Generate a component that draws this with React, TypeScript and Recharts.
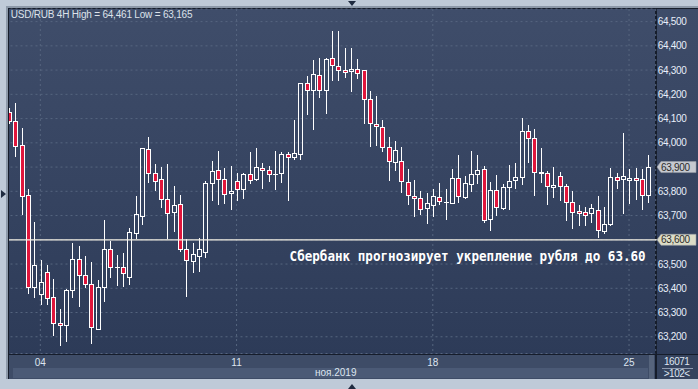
import { ComposedChart, Bar, XAxis, YAxis, CartesianGrid, ReferenceLine } from "recharts";

// USD/RUB 4H candles
const opens = [
  64127, 64090, 63991, 63783, 63406, 63375, 63466, 63363, 63255, 63247,
  63391, 63519, 63453, 63416, 63233, 63406, 63561, 63486, 63486, 63448,
  63629, 63699, 63973, 63874, 63849, 63767, 63713, 63746, 63561, 63511,
  63532, 63551, 63833, 63888, 63849, 63792, 63841, 63808, 63871, 63849,
  63896, 63886, 63870, 63874, 63952, 63943, 63955, 64245, 64219, 64278,
  64219, 64348, 64315, 64299, 64295, 64303, 64299, 64179, 64076, 64064,
  63981, 63919, 63924, 63837, 63779, 63771, 63730, 63742, 63775, 63756,
  63753, 63853, 63778, 63829, 63870, 63891, 63684, 63804, 63732, 63816,
  63845, 63858, 64047, 64018, 63878, 63874, 63816, 63862, 63820, 63754,
  63717, 63713, 63709, 63721, 63635, 63664, 63858, 63849, 63845, 63853,
  63849, 63783,
];
const highs = [
  64143, 64165, 64062, 63809, 63673, 63516, 63496, 63437, 63314, 63395,
  63587, 63574, 63533, 63507, 63433, 63681, 63596, 63537, 63545, 63650,
  63780, 63980, 64025, 63912, 63900, 63912, 63822, 63785, 63603, 63587,
  63606, 63844, 63924, 63965, 63896, 63904, 63875, 63875, 63962, 63978,
  63917, 63904, 63966, 63962, 63961, 64094, 64247, 64275, 64340, 64350,
  64350, 64461, 64461, 64390, 64390, 64344, 64300, 64212, 64192, 64093,
  64023, 64006, 63983, 63891, 63845, 63800, 63792, 63808, 63833, 63808,
  63891, 63948, 63862, 63966, 63948, 63903, 63837, 63866, 63830, 63908,
  63917, 64101, 64072, 64056, 63977, 63882, 63899, 63878, 63830, 63800,
  63742, 63734, 63746, 63779, 63734, 63895, 63874, 64039, 63891, 63895,
  63891, 63948,
];
const lows = [
  64081, 63947, 63706, 63379, 63365, 63336, 63336, 63207, 63165, 63184,
  63365, 63328, 63406, 63173, 63230, 63349, 63448, 63413, 63410, 63419,
  63606, 63665, 63839, 63805, 63736, 63606, 63637, 63555, 63369, 63468,
  63472, 63530, 63764, 63747, 63753, 63728, 63764, 63773, 63834, 63845,
  63815, 63842, 63811, 63839, 63764, 63932, 63934, 64120, 64058, 64190,
  64124, 64258, 64260, 64272, 64215, 64268, 64083, 63988, 63992, 63967,
  63846, 63886, 63798, 63746, 63699, 63705, 63670, 63697, 63746, 63687,
  63750, 63757, 63773, 63800, 63833, 63672, 63639, 63701, 63726, 63726,
  63812, 63829, 63919, 63783, 63839, 63746, 63775, 63763, 63680, 63650,
  63660, 63660, 63672, 63610, 63627, 63660, 63812, 63709, 63750, 63767,
  63726, 63754,
];
const closes = [
  64090, 63988, 63782, 63406, 63496, 63424, 63358, 63255, 63247, 63393,
  63519, 63453, 63416, 63239, 63406, 63561, 63486, 63488, 63462, 63631,
  63705, 63977, 63877, 63843, 63767, 63712, 63743, 63561, 63515, 63541,
  63561, 63833, 63884, 63849, 63788, 63800, 63808, 63871, 63845, 63900,
  63886, 63870, 63870, 63954, 63940, 63957, 64245, 64216, 64284, 64219,
  64344, 64320, 64299, 64291, 64303, 64287, 64179, 64080, 64068, 63981,
  63924, 63969, 63841, 63783, 63771, 63726, 63750, 63779, 63759, 63756,
  63853, 63779, 63833, 63870, 63886, 63680, 63804, 63736, 63816, 63842,
  63858, 64047, 64018, 63878, 63874, 63820, 63825, 63820, 63754, 63713,
  63709, 63701, 63730, 63639, 63664, 63858, 63845, 63862, 63853, 63845,
  63783, 63899,
];

const dayTicks = [5, 36, 67, 98];
const dayLabels = ["04", "11", "18", "25"];
const priceTicks = [
  63200, 63300, 63400, 63500, 63600, 63700, 63800,
  63900, 64000, 64100, 64200, 64300, 64400, 64500,
];
const level = 63600;
const lastPrice = 63900;
const title = "USD/RUB 4H High = 64,461 Low = 63,165";
const note = "Сбербанк прогнозирует укрепление рубля до 63.60";
const monthLabel = "ноя.2019";
const barsInfo = "16071";
const barsCount = ">102<";

const data = opens.map((o, i) => ({
  i,
  open: o,
  high: highs[i],
  low: lows[i],
  close: closes[i],
}));

const fmt = (v: number) =>
  `${Math.floor(v / 1000)},${String(v % 1000).padStart(3, "0")}`;

const FONT = "'Liberation Sans', Arial, sans-serif";

function Candle(props: any) {
  const { x, y, width, height, payload } = props;
  if (!payload) return null;
  const { open, close, high, low } = payload;
  const top = Math.min(y, y + height);
  const span = Math.abs(height);
  const k = high > low ? span / (high - low) : 0;
  const py = (p: number) => top + (high - p) * k;
  const cx = Math.round(x + width / 2) + 0.5;
  const up = close >= open;
  const bt = Math.round(py(Math.max(open, close))) + 0.5;
  const bb = Math.round(py(Math.min(open, close))) + 0.5;
  const hy = Math.round(py(high));
  const ly = Math.round(py(low)) + 1;
  const wick = "#ffffff";
  if (bb - bt < 1) {
    return (
      <g shapeRendering="crispEdges">
        <line x1={cx} x2={cx} y1={hy} y2={ly} stroke={wick} strokeWidth={1} />
        <line x1={cx - 2.5} x2={cx + 2.5} y1={bt} y2={bt} stroke={wick} strokeWidth={1} />
      </g>
    );
  }
  return (
    <g shapeRendering="crispEdges">
      {hy < bt && <line x1={cx} x2={cx} y1={hy} y2={bt} stroke={wick} strokeWidth={1} />}
      {ly > bb && <line x1={cx} x2={cx} y1={bb} y2={ly} stroke={wick} strokeWidth={1} />}
      <rect
        x={cx - 2}
        y={bt}
        width={4}
        height={bb - bt}
        fill={up ? "none" : "#e0163c"}
        stroke={wick}
        strokeWidth={1}
      />
    </g>
  );
}

function PriceTick(props: any) {
  const { y, payload } = props;
  const v = payload.value as number;
  if (v === lastPrice || v === level) {
    const fill = v === level ? "#dcdcc6" : "#c6c9d0";
    const pts = `657,${y} 661,${y - 5.5} 696,${y - 5.5} 696,${y + 5.5} 661,${y + 5.5}`;
    return (
      <g>
        {v === level && (
          <line x1={655} x2={657} y1={y} y2={y} stroke="#f4f0e4" strokeWidth={1} />
        )}
        <polygon points={pts} fill={fill} stroke="#9aa0aa" strokeWidth={0.6} />
        <text
          x={661}
          y={y + 3.6}
          fontSize={10}
          fontFamily={FONT}
          fill="#2b2b2b"
          style={{ letterSpacing: "-0.3px" }}
        >
          {fmt(v)}
        </text>
      </g>
    );
  }
  return (
    <text
      x={657.7}
      y={y + 3.6}
      fontSize={10}
      fontFamily={FONT}
      fill="#e8eefa"
      style={{ letterSpacing: "-0.3px" }}
    >
      {fmt(v)}
    </text>
  );
}

function DayTick(props: any) {
  const { x, payload } = props;
  const idx = dayTicks.indexOf(payload.value);
  return (
    <text x={x} y={365.7} textAnchor="middle" fontSize={10} fontFamily={FONT} fill="#dde5f0">
      {idx >= 0 ? dayLabels[idx] : ""}
    </text>
  );
}

function NoteLabel(props: any) {
  const vb = props.viewBox || {};
  const right = (vb.x ?? 0) + (vb.width ?? 0) - 10;
  const base = (vb.y ?? 240) + 21;
  return (
    <text
      transform={`translate(${right}, ${base}) scale(1, 1.15)`}
      x={0}
      y={0}
      textAnchor="end"
      fontSize={12.6}
      fontWeight="bold"
      fontFamily="'DejaVu Sans Mono', monospace"
      fill="#ffffff"
    >
      {note}
    </text>
  );
}

export default function App() {
  return (
    <div
      style={{
        position: "absolute",
        left: 0,
        top: 0,
        width: 698,
        height: 389,
        background: "#bfcad8",
        overflow: "hidden",
        fontFamily: FONT,
      }}
    >
      {/* frame and panels */}
      <div style={{ position: "absolute", left: 7, top: 6, width: 691, height: 1.5, background: "#8d99a9" }} />
      <div style={{ position: "absolute", left: 7, top: 7.5, width: 691, height: 371, background: "#161d2b" }} />
      <div
        style={{
          position: "absolute",
          left: 9,
          top: 9,
          width: 646,
          height: 344.5,
          background: "linear-gradient(#3f4d6a, #2d3b58)",
        }}
      />
      <div
        style={{
          position: "absolute",
          left: 656.7,
          top: 9,
          width: 42,
          height: 344.5,
          background: "linear-gradient(#3e4c69, #2d3b58)",
        }}
      />
      <div style={{ position: "absolute", left: 9, top: 355, width: 646, height: 23.5, background: "#3e4c67" }} />
      <div style={{ position: "absolute", left: 13, top: 367.7, width: 635, height: 10.8, background: "#4b5a76" }} />
      <div style={{ position: "absolute", left: 648.5, top: 355, width: 5, height: 23.5, background: "#56647c" }} />
      <div style={{ position: "absolute", left: 656.7, top: 355, width: 42, height: 23.5, background: "#34425d" }} />

      <div style={{ position: "absolute", left: 0, top: 0 }}>
        <ComposedChart
          width={698}
          height={389}
          data={data}
          margin={{ top: 9, right: 0, bottom: 0, left: 5.5 }}
          barCategoryGap={1}
        >
          <CartesianGrid stroke="#56657f" strokeDasharray="2 3" strokeWidth={1} />
          <XAxis
            dataKey="i"
            type="category"
            ticks={dayTicks}
            interval={0}
            padding={{ left: 0, right: 4.5 }}
            axisLine={false}
            tickLine={false}
            height={35.5}
            tick={<DayTick />}
          />
          <YAxis
            orientation="right"
            type="number"
            domain={[63131, 64552]}
            allowDataOverflow
            ticks={priceTicks}
            interval={0}
            width={42.3}
            axisLine={false}
            tickLine={false}
            tick={<PriceTick />}
          />
          <Bar
            dataKey={(d: any) => [d.low, d.high]}
            barSize={5}
            isAnimationActive={false}
            shape={<Candle />}
          />
          <ReferenceLine
            y={level}
            stroke="#f4f0e4"
            strokeWidth={1.2}
            label={<NoteLabel />}
          />
        </ComposedChart>
      </div>

      {/* left frame over the clipped first candle */}
      <div style={{ position: "absolute", left: 0, top: 0, width: 7, height: 389, background: "#bfcad8" }} />
      <div style={{ position: "absolute", left: 6, top: 6, width: 1.5, height: 373, background: "#8d99a9" }} />
      <div style={{ position: "absolute", left: 7.5, top: 7.5, width: 1.5, height: 371, background: "#161d2b" }} />
      <div style={{ position: "absolute", left: 0, top: 378.5, width: 698, height: 11, background: "#bfcad8" }} />

      {/* markers */}
      <div
        style={{
          position: "absolute",
          left: 348,
          top: 1,
          width: 0,
          height: 0,
          borderLeft: "4.5px solid transparent",
          borderRight: "4.5px solid transparent",
          borderTop: "5px solid #1f2b40",
        }}
      />
      <div
        style={{
          position: "absolute",
          left: 347.5,
          top: 384,
          width: 0,
          height: 0,
          borderLeft: "4.5px solid transparent",
          borderRight: "4.5px solid transparent",
          borderBottom: "5px solid #1f2b40",
        }}
      />
      <div
        style={{
          position: "absolute",
          left: 1,
          top: 190,
          width: 0,
          height: 0,
          borderTop: "4.5px solid transparent",
          borderBottom: "4.5px solid transparent",
          borderLeft: "5px solid #1f2b40",
        }}
      />

      {/* texts */}
      <div
        style={{
          position: "absolute",
          left: 10.7,
          top: 8.8,
          fontSize: 10,
          lineHeight: "12px",
          color: "#dde2ea",
          letterSpacing: "-0.2px",
          whiteSpace: "nowrap",
        }}
      >
        {title}
      </div>
      <div
        style={{
          position: "absolute",
          left: 285.7,
          top: 367.2,
          width: 100,
          textAlign: "center",
          fontSize: 10,
          lineHeight: "12px",
          color: "#dde5f0",
        }}
      >
        {monthLabel}
      </div>
      <div
        style={{
          position: "absolute",
          left: 656.7,
          top: 356.2,
          width: 40,
          textAlign: "center",
          fontSize: 10,
          lineHeight: "12px",
          color: "#dde5f0",
          letterSpacing: "-0.5px",
        }}
      >
        {barsInfo}
      </div>
      <div style={{ position: "absolute", left: 662, top: 368, width: 31, height: 1, background: "#8e9ab0" }} />
      <div
        style={{
          position: "absolute",
          left: 656.7,
          top: 367.8,
          width: 40,
          textAlign: "center",
          fontSize: 10,
          lineHeight: "12px",
          color: "#dde5f0",
          letterSpacing: "-0.5px",
        }}
      >
        {barsCount}
      </div>
    </div>
  );
}
